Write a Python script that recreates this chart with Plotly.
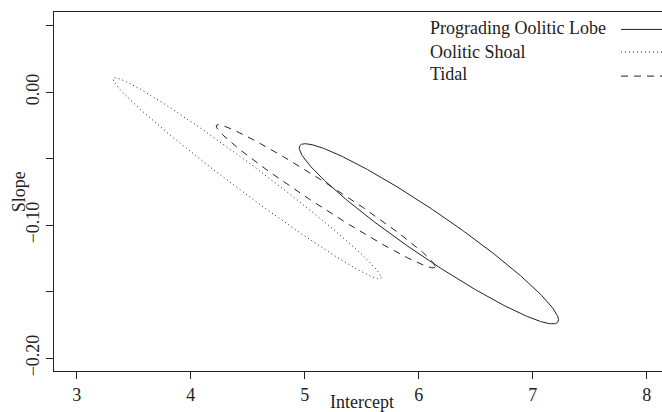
import numpy as np
import plotly.graph_objects as go

# Group names and ellipse parameters
groups = ["Prograding Oolitic Lobe", "Oolitic Shoal", "Tidal"]
center_intercept = [6.088, 4.494, 5.183]
center_slope = [-0.1065, -0.0648, -0.0783]
halfwidth_intercept = [1.1375, 1.176, 0.961]
halfwidth_slope = [0.0677, 0.0756, 0.0538]
correlation = [-0.955, -0.986, -0.982]
dashes = ["solid", "1px,3px", "7px,6px"]

x_ticks = [3, 4, 5, 6, 7, 8]
y_ticks = [-0.20, -0.15, -0.10, -0.05, 0.00, 0.05]
y_ticktext = ["\u22120.20", "", "\u22120.10", "", "0.00", ""]

FONT = "Liberation Serif"
INK = "#222222"

fig = go.Figure()
t = np.linspace(0, 2 * np.pi, 400)
for i, g in enumerate(groups):
    d = np.arccos(correlation[i])
    xs = center_intercept[i] + halfwidth_intercept[i] * np.cos(t)
    ys = center_slope[i] + halfwidth_slope[i] * np.cos(t + d)
    fig.add_trace(go.Scatter(x=xs, y=ys, mode="lines", name=g,
                             line=dict(color=INK, width=1, dash=dashes[i]),
                             showlegend=False, hoverinfo="skip"))

# legend drawn R-style: text on the left, line sample on the right
leg_text_y = [0.9546, 0.8894, 0.8273]
leg_line_y = [0.9515, 0.8883, 0.8215]
for i, g in enumerate(groups):
    fig.add_annotation(x=0.6156, y=leg_text_y[i], xref="paper", yref="paper",
                       text=g, showarrow=False, xanchor="left", yanchor="middle",
                       font=dict(family=FONT, size=18, color=INK))
    fig.add_shape(type="line", xref="paper", yref="paper",
                  x0=0.9326, x1=1.03, y0=leg_line_y[i], y1=leg_line_y[i],
                  line=dict(color=INK, width=1, dash=dashes[i]))

fig.add_annotation(x=0.5066, y=-0.085, xref="paper", yref="paper",
                   text="Intercept", showarrow=False, xanchor="center", yanchor="middle",
                   font=dict(family=FONT, size=18, color=INK))
fig.add_annotation(x=-0.058, y=0.5, xref="paper", yref="paper",
                   text="Slope", showarrow=False, textangle=-90,
                   xanchor="center", yanchor="middle",
                   font=dict(family=FONT, size=18, color=INK))

fig.update_layout(
    width=662, height=412,
    margin=dict(l=54, r=0, t=12, b=41, autoexpand=False),
    paper_bgcolor="white", plot_bgcolor="white",
    font=dict(family=FONT, size=18, color=INK),
    xaxis=dict(range=[2.8, 8.133], tickvals=x_ticks, ticks="outside", ticklen=7,
               tickcolor=INK, showline=True, linecolor=INK, linewidth=1, mirror=True,
               showgrid=False, zeroline=False, automargin=False,
               tickfont=dict(family=FONT, size=18)),
    yaxis=dict(range=[-0.2096, 0.0602], tickvals=y_ticks, ticktext=y_ticktext,
               ticks="outside", ticklen=7, tickcolor=INK, tickangle=-90,
               showline=True, linecolor=INK, linewidth=1, mirror=False,
               showgrid=False, zeroline=False, automargin=False,
               tickfont=dict(family=FONT, size=18)),
)
fig.write_html("out.html", config={"displayModeBar": False},
               post_script="document.body.style.margin='0px';")
